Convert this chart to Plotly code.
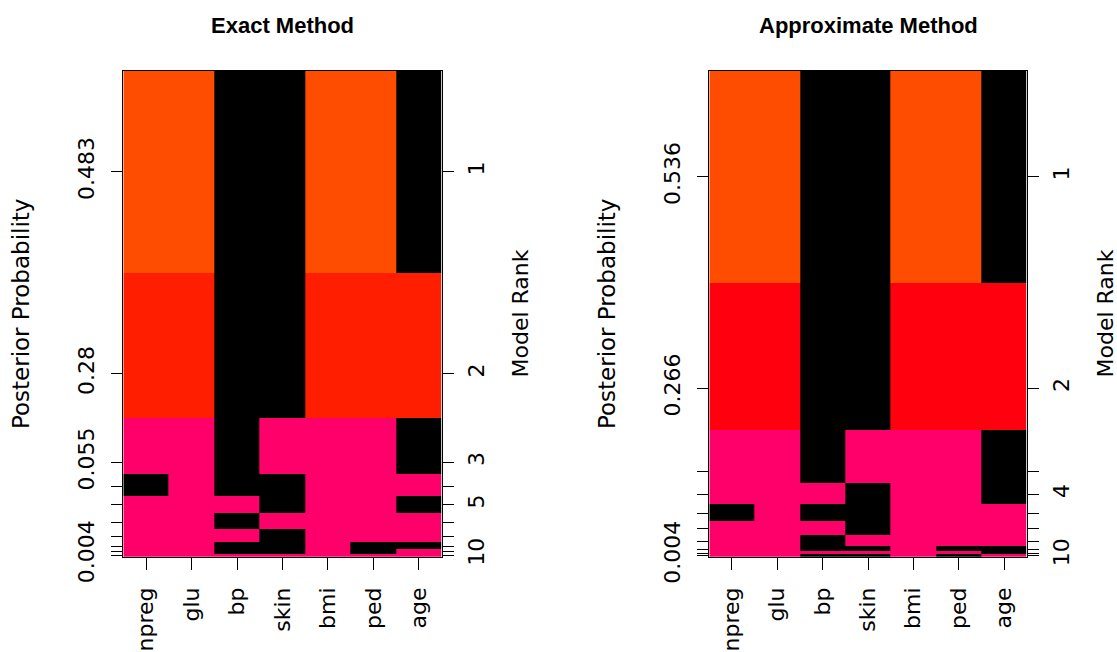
import numpy as np
import plotly.graph_objects as go

# ---------------- data ----------------
variables = ["npreg", "glu", "bp", "skin", "bmi", "ped", "age"]

# posterior probabilities of the top-ranked models (rank 1 first)
exact_postprob = [0.483, 0.280, 0.055, 0.036, 0.034, 0.031, 0.025, 0.012, 0.008, 0.004]
approx_postprob = [0.536, 0.266, 0.049, 0.038, 0.034, 0.025, 0.023, 0.008, 0.005, 0.004]

# variable inclusion (1 = in model), rows = model rank 1..10, cols = variables
exact_models = [
    [1, 1, 0, 0, 1, 1, 0],
    [1, 1, 0, 0, 1, 1, 1],
    [1, 1, 0, 1, 1, 1, 0],
    [0, 1, 0, 0, 1, 1, 1],
    [1, 1, 1, 0, 1, 1, 0],
    [1, 1, 0, 1, 1, 1, 1],
    [1, 1, 1, 0, 1, 1, 1],
    [1, 1, 0, 0, 1, 0, 0],
    [1, 1, 0, 0, 1, 0, 1],
    [1, 1, 1, 1, 1, 1, 1],
]
approx_models = [
    [1, 1, 0, 0, 1, 1, 0],
    [1, 1, 0, 0, 1, 1, 1],
    [1, 1, 0, 1, 1, 1, 0],
    [1, 1, 1, 0, 1, 1, 0],
    [0, 1, 0, 0, 1, 1, 1],
    [1, 1, 1, 0, 1, 1, 1],
    [1, 1, 0, 1, 1, 1, 1],
    [1, 1, 0, 0, 1, 0, 0],
    [1, 1, 1, 1, 1, 1, 0],
    [1, 1, 0, 0, 1, 0, 1],
]

# which tick labels are printed (the others are dropped for overlap)
exact_prob_label_ranks = [1, 2, 3, 10]
exact_rank_label_ranks = [1, 2, 3, 5, 10]
approx_prob_label_ranks = [1, 2, 10]
approx_rank_label_ranks = [1, 2, 4, 10]

titles = ["Exact Method", "Approximate Method"]

# ---------------- style ----------------
W, H = 1117, 652            # reference frame used for placing the panels
FIG_H = 679                 # page height that the snapshot maps onto 652 rows
BLACK = "#000000"
PINK = "#FF006B"
panel_colors = [
    {"second": "#FF1F00", "top": "#FF4D00"},
    {"second": "#FF000F", "top": "#FF4D00"},
]
panels_px = [(123.3, 441.7), (709.3, 1026.7)]
plot_top_px, plot_bot_px = 71.0, 556.7
ROT_FONT = "DejaVu Sans"
TITLE_FONT = "Liberation Sans, Arial, Helvetica"


def geometry(probs):
    """Cell centres and edges as in an image() of cumulative posterior probability."""
    p = np.asarray(probs, dtype=float)[::-1]          # bottom (lowest rank) to top
    cs = np.concatenate([[0.0], np.cumsum(p)])
    mid = (cs[1:] + cs[:-1]) / 2.0
    d = np.diff(mid) / 2.0
    edges = np.concatenate([[mid[0] - d[0]], mid[:-1] + d, [mid[-1] + d[-1]]])
    return mid, edges


def fmt(v):
    return f"{round(v, 3):g}"


fig = go.Figure()
datasets = [
    (exact_postprob, exact_models, exact_prob_label_ranks, exact_rank_label_ranks),
    (approx_postprob, approx_models, approx_prob_label_ranks, approx_rank_label_ranks),
]

ydom = [1 - plot_bot_px / H, 1 - plot_top_px / H]

for i, (probs, models, plab, rlab) in enumerate(datasets):
    n = len(probs)
    mid, edges = geometry(probs)
    ranks_bottom_up = list(range(n, 0, -1))
    # colour level: 0 excluded, 1 included (small model), 2 rank-2, 3 rank-1
    z = []
    for r in ranks_bottom_up:
        level = 3 if r == 1 else (2 if r == 2 else 1)
        z.append([level if inc else 0 for inc in models[r - 1]])
    cols = panel_colors[i]
    cscale = [
        [0.0, BLACK], [1 / 6, BLACK],
        [1 / 6, PINK], [0.5, PINK],
        [0.5, cols["second"]], [5 / 6, cols["second"]],
        [5 / 6, cols["top"]], [1.0, cols["top"]],
    ]
    xname = "x" if i == 0 else "x2"
    yname = "y" if i == 0 else "y3"
    y2name = "y2" if i == 0 else "y4"
    fig.add_trace(go.Heatmap(
        z=z, x=list(range(len(variables) + 1)), y=edges.tolist(),
        zmin=0, zmax=3, colorscale=cscale, showscale=False,
        xaxis=xname, yaxis=yname, hoverinfo="skip",
    ))
    # invisible trace so that the right-hand "Model Rank" axis is drawn
    fig.add_trace(go.Scatter(
        x=[0.5] * n, y=mid.tolist(), mode="markers",
        marker=dict(opacity=0, size=1), xaxis=xname, yaxis=y2name,
        hoverinfo="skip", showlegend=False,
    ))

    prob_text = [fmt(probs[r - 1]) if r in plab else "" for r in ranks_bottom_up]
    rank_text = [str(r) if r in rlab else "" for r in ranks_bottom_up]
    x0, x1 = panels_px[i]
    xdom = [x0 / W, x1 / W]
    xkey = "xaxis" if i == 0 else "xaxis2"
    ykey = "yaxis" if i == 0 else "yaxis3"
    y2key = "yaxis2" if i == 0 else "yaxis4"
    yrange = [float(edges[0]), float(edges[-1])]
    axis_common = dict(showgrid=False, zeroline=False, ticks="outside",
                       tickcolor=BLACK, tickwidth=1, showline=True,
                       linecolor=BLACK, linewidth=1, fixedrange=True,
                       tickfont=dict(family=ROT_FONT, size=22, color=BLACK))
    fig.update_layout(**{
        xkey: dict(domain=xdom, range=[0, len(variables)], anchor=yname,
                   tickmode="array",
                   tickvals=[k + 0.5 for k in range(len(variables))],
                   ticktext=variables, tickangle=-90, ticklen=12,
                   ticklabelstandoff=9, mirror=True, **axis_common),
        ykey: dict(domain=ydom, range=yrange, anchor=xname, tickmode="array",
                   tickvals=mid.tolist(), ticktext=prob_text, tickangle=-90,
                   ticklen=11, ticklabelstandoff=9, mirror=True, **axis_common),
        y2key: dict(domain=ydom, range=yrange, anchor=xname, overlaying=yname,
                    side="right", tickmode="array", tickvals=mid.tolist(),
                    ticktext=rank_text, tickangle=-90, ticklen=11,
                    ticklabelstandoff=4, **axis_common),
    })

    cx = (x0 + x1) / 2 / W
    fig.add_annotation(text="<b>" + titles[i] + "</b>", x=cx, y=1 - 26 / H,
                       xref="paper", yref="paper", showarrow=False,
                       xanchor="center", yanchor="middle",
                       font=dict(family=TITLE_FONT, size=22, color=BLACK))
    fig.add_annotation(text="Posterior Probability", x=(x0 - 103) / W,
                       y=1 - 313.8 / H, xref="paper", yref="paper",
                       showarrow=False, textangle=-90, xanchor="center",
                       yanchor="middle",
                       font=dict(family=ROT_FONT, size=23, color=BLACK))
    fig.add_annotation(text="Model Rank", x=(x1 + 79) / W, y=1 - 313.8 / H,
                       xref="paper", yref="paper", showarrow=False,
                       textangle=-90, xanchor="center", yanchor="middle",
                       font=dict(family=ROT_FONT, size=22, color=BLACK))

fig.update_layout(width=W, height=FIG_H, autosize=False,
                  margin=dict(l=0, r=0, t=0, b=0),
                  paper_bgcolor="white", plot_bgcolor="white",
                  showlegend=False)

fig.write_html("out.html",
               config={"displayModeBar": False},
               post_script="document.body.style.margin='0px';"
                           "document.body.style.overflow='hidden';")
